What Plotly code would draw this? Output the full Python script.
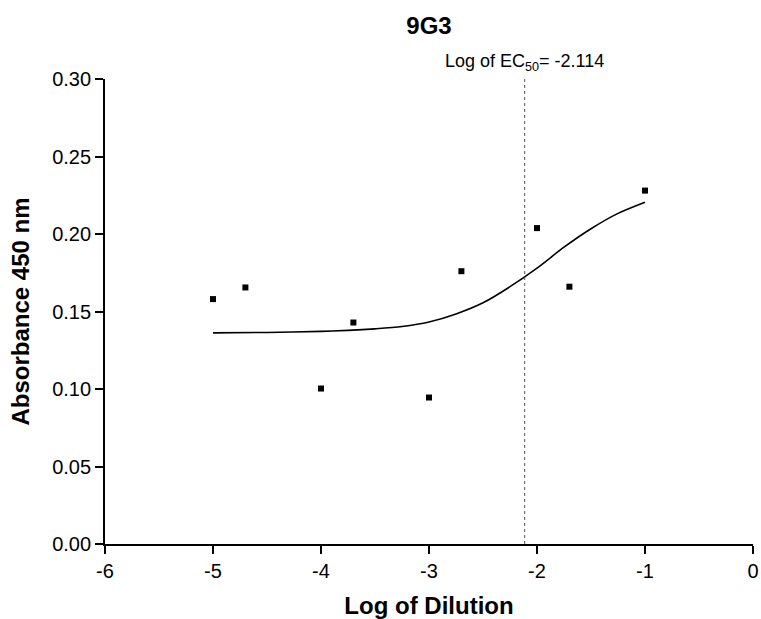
import plotly.graph_objects as go

# measured points (log dilution vs absorbance)
log_dilution = [-5.0, -4.7, -4.0, -3.7, -3.0, -2.7, -2.0, -1.7, -1.0]
absorbance = [0.158, 0.1655, 0.1003, 0.1429, 0.0945, 0.176, 0.2038, 0.166, 0.228]

# fitted sigmoid
fit_x = [-5.0, -4.5, -4.0, -3.75, -3.5, -3.25, -3.0, -2.75, -2.5, -2.25,
         -2.0, -1.75, -1.5, -1.25, -1.0]
fit_y = [0.1362, 0.1365, 0.1372, 0.1378, 0.1388, 0.1403, 0.1432, 0.1484,
         0.1556, 0.1660, 0.1780, 0.1915, 0.2034, 0.2133, 0.2205]

log_ec50 = -2.114

x_ticks = [-6, -5, -4, -3, -2, -1, 0]
x_ticktext = ["-6", "-5", "-4", "-3", "-2", "-1", "0"]
y_ticks = [0.0, 0.05, 0.10, 0.15, 0.20, 0.25, 0.30]

FONT = "Liberation Sans, Arial, sans-serif"

fig = go.Figure()
fig.add_scatter(x=fit_x, y=fit_y, mode="lines",
                line=dict(color="black", width=1.6, shape="spline", smoothing=0.8),
                showlegend=False, hoverinfo="skip")
fig.add_scatter(x=log_dilution, y=absorbance, mode="markers",
                marker=dict(symbol="square", size=6, color="black"), showlegend=False)

fig.add_shape(type="line", x0=log_ec50, x1=log_ec50, y0=0, y1=0.30, xref="x", yref="y",
              line=dict(color="#555555", width=1, dash="dot"))
fig.add_annotation(x=log_ec50, y=1, xref="x", yref="paper", yanchor="bottom", yshift=3,
                   text=f"Log of EC<sub>50</sub>= {log_ec50}", showarrow=False,
                   font=dict(family=FONT, size=18, color="black"))

fig.update_layout(
    width=761, height=619,
    paper_bgcolor="white", plot_bgcolor="white",
    margin=dict(l=105, r=8, t=79, b=75),
    font=dict(family=FONT, color="black"),
    title=dict(text="<b>9G3</b>", x=0.5, xanchor="center", xref="paper",
               y=1 - 26 / 619, yanchor="middle", font=dict(size=24, family=FONT)),
)
axis_common = dict(showline=True, linecolor="black", linewidth=1.8, ticks="outside",
                   ticklen=8, tickwidth=1.8, tickcolor="black", showgrid=False,
                   zeroline=False, automargin=False, ticklabeloverflow="allow",
                   tickfont=dict(size=20, family=FONT))
fig.update_xaxes(range=[-6, 0], tickvals=x_ticks, ticktext=x_ticktext,
                 title=dict(text="<b>Log of Dilution</b>", font=dict(size=24), standoff=17),
                 **axis_common)
fig.update_yaxes(range=[0, 0.30], tickvals=y_ticks, tickformat=".2f",
                 title=dict(text="<b>Absorbance 450 nm</b>", font=dict(size=24), standoff=16),
                 **axis_common)

# drop the default page margin so the figure fills the window exactly
fig.write_html("out.html", config={"displayModeBar": False},
               post_script="document.body.style.margin = '0';")
